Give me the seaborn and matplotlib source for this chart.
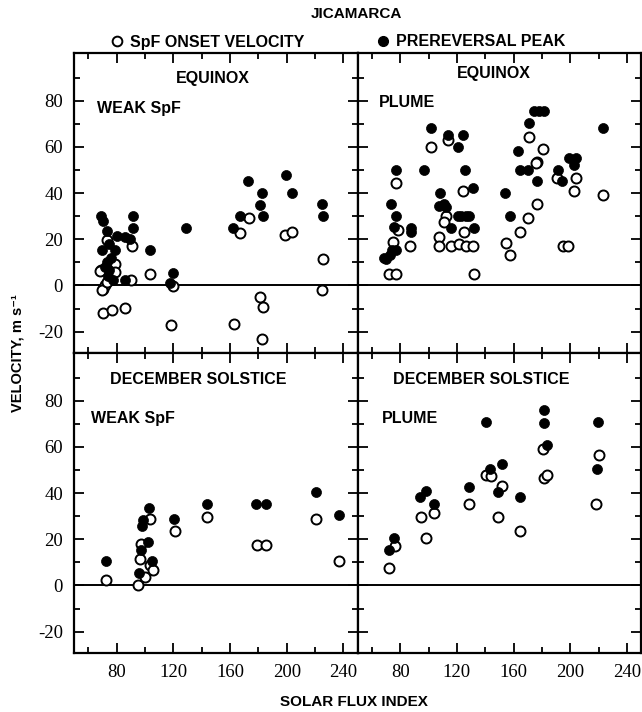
import numpy as np
import pandas as pd
import matplotlib
matplotlib.use('Agg')
import matplotlib.pyplot as plt
from matplotlib.ticker import MultipleLocator, FixedLocator
from matplotlib.lines import Line2D
import seaborn as sns

# ── data (solar flux index, velocity m/s) ───────────────────────────────────
# Equinox, weak SpF
eq_weak_onset_x = [68.7, 70.1, 71.8, 73.0, 78.8, 68.2, 69.4, 73.0, 78.8, 90.6, 89.9, 103.5,
                   70.1, 76.5, 86.3, 118.1, 120.0, 162.8, 181.2, 183.3, 182.6, 173.4, 167.0,
                   198.8, 203.5, 225.9, 224.7]
eq_weak_onset_y = [6.5, -1.4, 0.0, 19.5, 9.4, 6.2, -1.9, 1.4, 5.9, 17.3, 2.2, 5.1,
                   -12.0, -10.8, -9.8, -17.0, -0.4, -16.9, -5.2, -9.5, -23.0, 29.1, 22.8,
                   22.0, 23.0, 11.3, -1.9]
eq_weak_peak_x = [68.7, 70.1, 73.0, 80.0, 85.9, 89.4, 91.3, 91.3, 69.4, 78.8, 73.0, 74.8,
                  77.6, 86.3, 75.0, 72.0, 76.0, 74.0, 103.5, 120.0, 117.6, 128.7, 162.4,
                  167.0, 173.0, 181.0, 182.4, 183.5, 199.3, 203.5, 225.0, 225.9]
eq_weak_peak_y = [30.3, 28.1, 23.8, 21.6, 20.9, 20.2, 30.3, 25.0, 15.2, 15.4, 10.1, 6.5,
                  2.2, 2.2, 18.0, 8.0, 12.0, 4.0, 15.2, 5.3, 1.0, 25.0, 25.0,
                  30.0, 45.2, 35.0, 40.1, 30.0, 48.0, 40.1, 35.4, 30.0]

# Equinox, plume
eq_plume_onset_x = [71.8, 77.2, 132.2, 74.8, 78.4, 77.2, 86.6, 101.8, 113.5, 107.6, 107.6,
                    115.8, 121.7, 126.4, 131.5, 112.3, 111.2, 125.2, 124.0, 154.5, 157.7,
                    164.5, 170.4, 176.7, 171.0, 181.0, 176.7, 175.5, 190.8, 203.7, 202.5,
                    195.0, 198.5, 223.1]
eq_plume_onset_y = [5.0, 5.0, 5.0, 18.8, 24.1, 44.3, 17.0, 60.2, 63.1, 21.2, 17.3,
                    16.9, 18.0, 16.9, 16.9, 29.9, 27.4, 23.1, 41.1, 18.3, 13.0,
                    23.1, 29.3, 35.4, 64.2, 59.2, 53.4, 53.0, 46.6, 46.5, 41.1,
                    17.0, 17.0, 39.4]
eq_plume_peak_x = [68.5, 70.2, 72.5, 74.1, 77.2, 73.7, 77.2, 77.2, 75.6, 87.8, 87.8, 101.8,
                   96.6, 108.3, 107.6, 111.2, 112.3, 115.8, 113.5, 120.5, 124.0, 125.7, 131.1,
                   120.5, 122.9, 126.4, 128.7, 131.8, 154.2, 157.7, 163.3, 164.5, 170.4,
                   171.0, 174.4, 177.9, 181.4, 176.7, 191.5, 194.3, 199.0, 203.7, 202.5, 223.1]
eq_plume_peak_y = [12.0, 11.5, 13.0, 15.2, 15.2, 35.4, 50.0, 30.3, 25.3, 25.0, 23.0, 68.3,
                   50.0, 40.1, 34.6, 35.4, 34.0, 25.0, 65.2, 60.2, 65.2, 50.0, 42.1,
                   30.3, 30.3, 30.3, 30.3, 25.0, 40.1, 30.3, 58.4, 50.0, 50.0,
                   70.4, 75.5, 75.5, 75.5, 45.2, 50.0, 45.2, 55.3, 55.3, 52.4, 68.3]

# December solstice, weak SpF
ds_weak_onset_x = [72.9, 95.3, 96.5, 97.2, 100.0, 103.5, 103.5, 105.4, 121.2, 143.5,
                   178.8, 185.2, 220.7, 236.5]
ds_weak_onset_y = [2.5, 0.3, 11.3, 17.8, 3.6, 28.6, 8.7, 6.5, 23.4, 29.6,
                   17.6, 17.6, 28.6, 10.4]
ds_weak_peak_x = [72.9, 95.8, 96.9, 97.6, 98.8, 102.4, 103.1, 104.7, 120.7, 143.5,
                  178.4, 185.4, 220.7, 236.5]
ds_weak_peak_y = [10.5, 5.5, 15.2, 25.7, 28.5, 18.8, 33.5, 10.5, 28.6, 35.4,
                  35.4, 35.4, 40.5, 30.6]

# December solstice, plume
ds_plume_onset_x = [72.0, 76.0, 94.8, 98.3, 104.1, 128.7, 140.4, 143.9, 152.1, 149.1,
                    164.3, 180.9, 181.4, 183.7, 220.0, 218.4]
ds_plume_onset_y = [7.5, 17.3, 29.6, 20.5, 31.5, 35.4, 47.7, 47.4, 43.1, 29.6,
                    23.6, 59.2, 46.5, 47.7, 56.6, 35.4]
ds_plume_peak_x = [72.0, 75.6, 94.3, 98.3, 104.1, 128.7, 140.4, 143.5, 149.1, 151.7,
                   164.3, 181.4, 181.4, 183.3, 218.9, 219.6]
ds_plume_peak_y = [15.5, 20.5, 38.3, 40.8, 35.4, 42.6, 70.8, 50.6, 40.5, 52.5,
                   38.3, 75.9, 70.5, 60.7, 50.6, 70.8]

panels = [
    ('EQUINOX', 'WEAK SpF', eq_weak_onset_x, eq_weak_onset_y, eq_weak_peak_x, eq_weak_peak_y),
    ('EQUINOX', 'PLUME', eq_plume_onset_x, eq_plume_onset_y, eq_plume_peak_x, eq_plume_peak_y),
    ('DECEMBER SOLSTICE', 'WEAK SpF', ds_weak_onset_x, ds_weak_onset_y, ds_weak_peak_x, ds_weak_peak_y),
    ('DECEMBER SOLSTICE', 'PLUME', ds_plume_onset_x, ds_plume_onset_y, ds_plume_peak_x, ds_plume_peak_y),
]

# label positions in axes fraction (season centre, type left)
season_pos = [(0.488, 0.917), (0.481, 0.933), (0.438, 0.913), (0.436, 0.913)]
type_pos = [(0.081, 0.817), (0.074, 0.837), (0.060, 0.783), (0.084, 0.783)]

sns.set_style('ticks')
plt.rcParams['font.family'] = ['Liberation Sans', 'DejaVu Sans']
plt.rcParams['axes.unicode_minus'] = False
plt.rcParams['text.color'] = 'black'
plt.rcParams['xtick.color'] = 'black'
plt.rcParams['ytick.color'] = 'black'
plt.rcParams['axes.edgecolor'] = 'black'

SANS = ['Liberation Sans', 'DejaVu Sans']
SERIF = ['Liberation Serif', 'DejaVu Serif']
MS = 52

fig, axes = plt.subplots(2, 2, figsize=(6.42, 7.12), dpi=100, sharex=True, sharey=True)
fig.subplots_adjust(left=74/642, right=641.3/642, top=1-53.3/712, bottom=1-653.3/712,
                    wspace=0, hspace=0)

for i, (ax, (season, kind, ox, oy, px, py)) in enumerate(zip(axes.flat, panels)):
    onset = pd.DataFrame({'flux': ox, 'vel': oy})
    peak = pd.DataFrame({'flux': px, 'vel': py})
    ax.axhline(0, color='black', lw=1.4, zorder=1)
    sns.scatterplot(data=onset, x='flux', y='vel', ax=ax, s=MS, facecolor='white',
                    edgecolor='black', linewidth=1.4, zorder=3)
    sns.scatterplot(data=peak, x='flux', y='vel', ax=ax, s=MS, color='black',
                    edgecolor='black', linewidth=0.5, zorder=4)
    ax.set_xlim(50, 250)
    ax.set_ylim(-29.4, 100.6)
    ax.xaxis.set_major_locator(MultipleLocator(40))
    ax.xaxis.set_minor_locator(MultipleLocator(20))
    ax.yaxis.set_major_locator(FixedLocator([-20, 0, 20, 40, 60, 80]))
    ax.yaxis.set_minor_locator(FixedLocator([-10, 10, 30, 50, 70, 90]))
    ax.tick_params(which='both', direction='in', top=True, right=True, bottom=True, left=True,
                   color='black', labelcolor='black', width=1.3)
    ax.tick_params(which='major', length=7, pad=8, labelsize=13.5)
    ax.tick_params(which='minor', length=4)
    for lab in ax.get_xticklabels() + ax.get_yticklabels():
        lab.set_family(SERIF)
    for sp in ax.spines.values():
        sp.set_visible(True)
        sp.set_linewidth(1.6)
        sp.set_color('black')
    ax.set_xlabel('')
    ax.set_ylabel('')
    ax.text(*season_pos[i], season, transform=ax.transAxes, ha='center', va='center',
            fontsize=11.5, fontweight='bold', family=SANS, color='black')
    ax.text(*type_pos[i], kind, transform=ax.transAxes, ha='left', va='center',
            fontsize=11.5, fontweight='bold', family=SANS, color='black')

for ax in axes[:, 1]:
    ax.tick_params(labelleft=False)
for ax in axes[0, :]:
    ax.tick_params(labelbottom=False)

fig.text(356/642, 1-14/712, 'JICAMARCA', ha='center', va='center', fontsize=11,
         fontweight='bold', family=SANS)
fig.text(354/642, 1-702/712, 'SOLAR FLUX INDEX', ha='center', va='center', fontsize=11,
         fontweight='bold', family=SANS)
fig.text(18/642, 1-353/712, 'VELOCITY, m s\u207b\u00b9', ha='center', va='center', rotation=90,
         fontsize=10.5, fontweight='bold', family=SANS)

# legend entries above the panels
h_open = Line2D([], [], ls='none', marker='o', ms=7, mfc='white', mec='black', mew=1.4)
h_fill = Line2D([], [], ls='none', marker='o', ms=7, mfc='black', mec='black')
for h, lab, xpx in [(h_open, 'SpF ONSET VELOCITY', 109), (h_fill, 'PREREVERSAL PEAK', 375)]:
    leg = fig.legend([h], [lab], loc='center left', bbox_to_anchor=(xpx/642, 1-42/712),
                     frameon=False, handlelength=1.0, handletextpad=0.3, borderpad=0,
                     borderaxespad=0, prop={'family': SANS, 'weight': 'bold', 'size': 11.5})
    for t in leg.get_texts():
        t.set_color('black')

fig.savefig('out.png', dpi=100)
